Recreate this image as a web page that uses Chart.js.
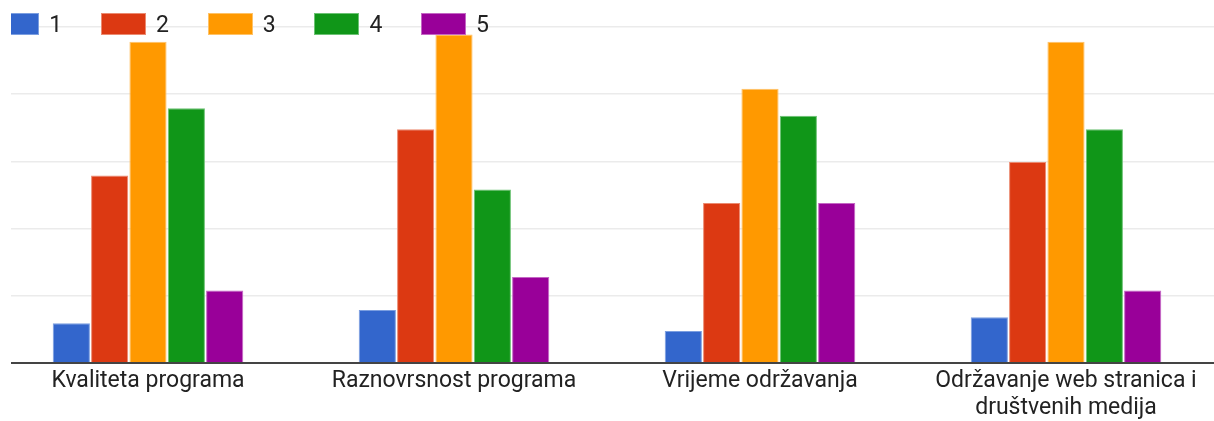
<!DOCTYPE html>
<html>
<head>
<meta charset="utf-8">
<script src="https://cdn.jsdelivr.net/npm/chart.js@4/dist/chart.umd.min.js"></script>
<style>
  body { margin: 0; background: #fff; }
  #wrap { position: absolute; left: 11px; top: 0; width: 1203px; height: 421px; overflow: hidden; }
  #box { position: absolute; left: -16px; top: 0; width: 1224px; height: 421px; }
  .lg-box { position: absolute; top: 13px; width: 45px; height: 22px; }
  .lg-text { position: absolute; top: 11px; font: 23px Roboto; line-height: 27px; color: #222; }
</style>
</head>
<body>
<div id="wrap">
  <div id="box"><canvas id="chart"></canvas></div>
</div>
<script>
// categories and answer counts per rating (1..5)
const categories = [
  'Kvaliteta programa',
  'Raznovrsnost programa',
  'Vrijeme održavanja',
  ['Održavanje web stranica i', 'društvenih medija']
];
const seriesNames = ['1', '2', '3', '4', '5'];
const rating1 = [5.9, 7.9, 4.75, 6.8];
const rating2 = [27.9, 34.8, 23.8, 29.9];
const rating3 = [47.8, 48.9, 40.8, 47.8];
const rating4 = [37.9, 25.8, 36.8, 34.8];
const rating5 = [10.8, 12.8, 23.8, 10.8];
const colors = ['#3366cc', '#dc3912', '#ff9900', '#109618', '#990099'];
const edgeColors = ['#7b9ee0', '#eb8a70', '#ffc266', '#6cc274', '#c466c4'];

const allSeries = [rating1, rating2, rating3, rating4, rating5];

const datasets = allSeries.map((values, i) => ({
  label: seriesNames[i],
  data: values,
  backgroundColor: colors[i],
  borderColor: edgeColors[i],
  borderWidth: 1,
  borderSkipped: 'bottom',
  barPercentage: 0.97,
  categoryPercentage: 0.6265
}));

// legend as plain html on top of the top gridline
const wrap = document.getElementById('wrap');
seriesNames.forEach((name, i) => {
  const left = -16.7 + 106.7 * i;
  const b = document.createElement('div');
  b.className = 'lg-box';
  b.style.left = left + 'px';
  b.style.background = colors[i];
  b.style.outline = '1px solid ' + edgeColors[i];
  b.style.outlineOffset = '-1px';
  wrap.appendChild(b);
  const t = document.createElement('div');
  t.className = 'lg-text';
  t.style.left = (left + 45 + 10) + 'px';
  t.textContent = name;
  wrap.appendChild(t);
});

new Chart(document.getElementById('chart'), {
  type: 'bar',
  data: { labels: categories, datasets: datasets },
  options: {
    responsive: true,
    maintainAspectRatio: false,
    animation: false,
    layout: { padding: { top: 27, left: 0, right: 0, bottom: 0 } },
    plugins: {
      legend: { display: false },
      tooltip: { enabled: false }
    },
    scales: {
      x: {
        grid: { display: false, drawTicks: false },
        border: { display: false },
        ticks: {
          color: '#222',
          padding: 5,
          maxRotation: 0,
          autoSkip: false,
          font: { family: 'Roboto', size: 23, lineHeight: 1.17 }
        },
        afterFit: function (scale) { scale.height = 58; }
      },
      y: {
        min: 0,
        max: 50,
        grid: {
          drawTicks: false,
          color: ctx => ctx.tick && ctx.tick.value === 0 ? '#444' : '#ebebeb',
          lineWidth: ctx => ctx.tick && ctx.tick.value === 0 ? 2 : 1.5
        },
        border: { display: false },
        ticks: { display: false, stepSize: 10 }
      }
    }
  }
});
</script>
</body>
</html>
